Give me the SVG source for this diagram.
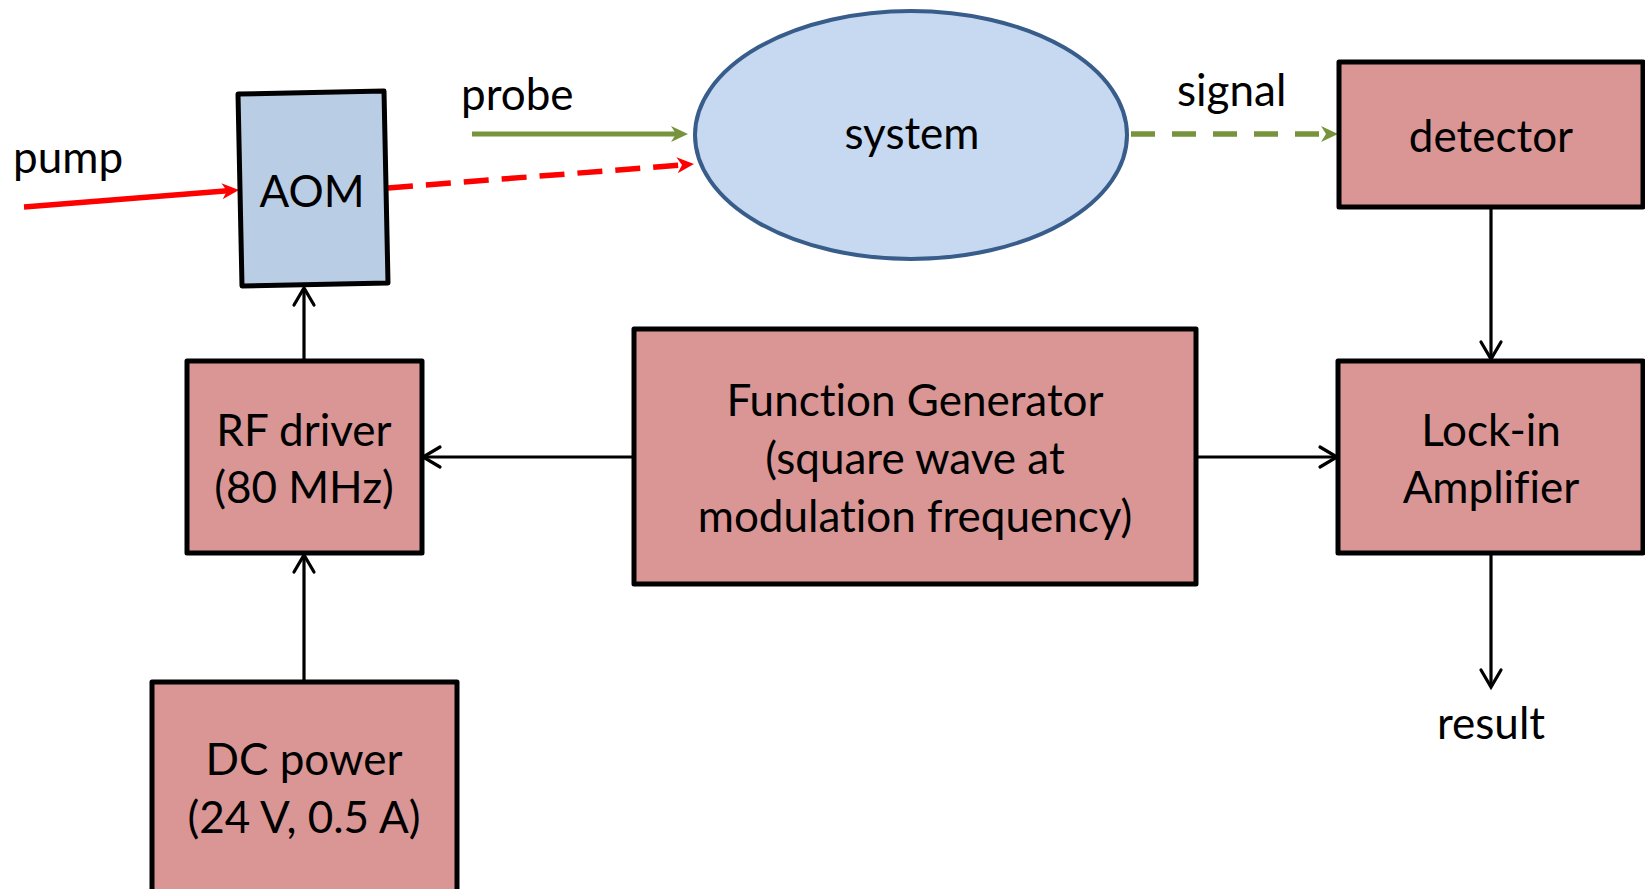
<svg xmlns="http://www.w3.org/2000/svg" width="1645" height="889" viewBox="0 0 1645 889">
  <style>
    .lbl { font-family: Lato, "Open Sans", "Liberation Sans", sans-serif; font-size: 44px; fill: #000; font-variant-ligatures: none; font-feature-settings: "liga" 0, "dlig" 0; }
    .mid { text-anchor: middle; }
    .box { fill: #d99694; stroke: #000; stroke-width: 5; stroke-linejoin: round; }
    .wire { fill: none; stroke: #000; stroke-width: 3.2; marker-end: url(#chev); }
  </style>
  <defs>
    <marker id="chev" markerUnits="userSpaceOnUse" markerWidth="40" markerHeight="40" viewBox="-20 -20 40 40" refX="0" refY="0" orient="auto" overflow="visible">
      <path d="M-17,-10 L0,0 L-17,10" fill="none" stroke="#000" stroke-width="3.2" stroke-linecap="round"/>
    </marker>
    <marker id="stealthRed" markerUnits="userSpaceOnUse" markerWidth="40" markerHeight="40" viewBox="-20 -20 40 40" refX="0" refY="0" orient="auto" overflow="visible">
      <path d="M-9,-8 L8,0 L-9,8 L-4,0 z" fill="#ff0000"/>
    </marker>
    <marker id="stealthGreen" markerUnits="userSpaceOnUse" markerWidth="40" markerHeight="40" viewBox="-20 -20 40 40" refX="0" refY="0" orient="auto" overflow="visible">
      <path d="M-9,-8 L8,0 L-9,8 L-4,0 z" fill="#77933c"/>
    </marker>
  </defs>

  <!-- beam paths and signal wiring -->
  <g id="connectors">
    <line x1="24" y1="207" x2="231" y2="190.6" stroke="#ff0000" stroke-width="5.5" marker-end="url(#stealthRed)"/>
    <line x1="388" y1="188" x2="686" y2="164.6" stroke="#ff0000" stroke-width="5.5" stroke-dasharray="25 13" marker-end="url(#stealthRed)"/>
    <line x1="472" y1="134" x2="680" y2="134" stroke="#77933c" stroke-width="5" marker-end="url(#stealthGreen)"/>
    <line x1="1131" y1="134" x2="1330" y2="134" stroke="#77933c" stroke-width="5.5" stroke-dasharray="24 17" marker-end="url(#stealthGreen)"/>
    <line class="wire" x1="304" y1="361" x2="304" y2="288"/>
    <line class="wire" x1="304" y1="682" x2="304" y2="555"/>
    <line class="wire" x1="634" y1="457" x2="423" y2="457"/>
    <line class="wire" x1="1196" y1="457" x2="1337" y2="457"/>
    <line class="wire" x1="1491" y1="207" x2="1491" y2="359"/>
    <line class="wire" x1="1491" y1="553" x2="1491" y2="687"/>
  </g>

  <g id="pump-label">
    <text class="lbl" x="13" y="173">pump</text>
  </g>
  <g id="probe-label">
    <text class="lbl" x="461" y="110">probe</text>
  </g>
  <g id="signal-label">
    <text class="lbl" x="1177" y="106">signal</text>
  </g>
  <g id="result-label">
    <text class="lbl mid" x="1491" y="739">result</text>
  </g>

  <g id="aom">
    <polygon points="238,94 384,91 388,283 242,286" fill="#b9cde5" stroke="#000" stroke-width="5" stroke-linejoin="round"/>
    <text class="lbl mid" x="312" y="207">AOM</text>
  </g>

  <g id="system">
    <ellipse cx="911" cy="135" rx="216" ry="124" fill="#c6d9f1" stroke="#385d8a" stroke-width="4"/>
    <text class="lbl mid" x="912" y="149">system</text>
  </g>

  <g id="detector">
    <rect class="box" x="1339" y="62" width="304" height="145"/>
    <text class="lbl mid" x="1491" y="152">detector</text>
  </g>

  <g id="lockin">
    <rect class="box" x="1338" y="361" width="305" height="192"/>
    <text class="lbl mid" x="1491" y="446">Lock-in</text>
    <text class="lbl mid" x="1491" y="503">Amplifier</text>
  </g>

  <g id="function-generator">
    <rect class="box" x="634" y="329" width="562" height="255"/>
    <text class="lbl mid" x="915" y="416">Function Generator</text>
    <text class="lbl mid" x="915" y="474">(square wave at</text>
    <text class="lbl mid" x="915" y="532">modulation frequency)</text>
  </g>

  <g id="rf-driver">
    <rect class="box" x="187" y="361" width="235" height="192"/>
    <text class="lbl mid" x="304" y="446">RF driver</text>
    <text class="lbl mid" x="304" y="503">(80 MHz)</text>
  </g>

  <g id="dc-power">
    <rect class="box" x="152" y="682" width="305" height="220"/>
    <text class="lbl mid" x="304" y="775">DC power</text>
    <text class="lbl mid" x="304" y="833">(24 V, 0.5 A)</text>
  </g>
</svg>
